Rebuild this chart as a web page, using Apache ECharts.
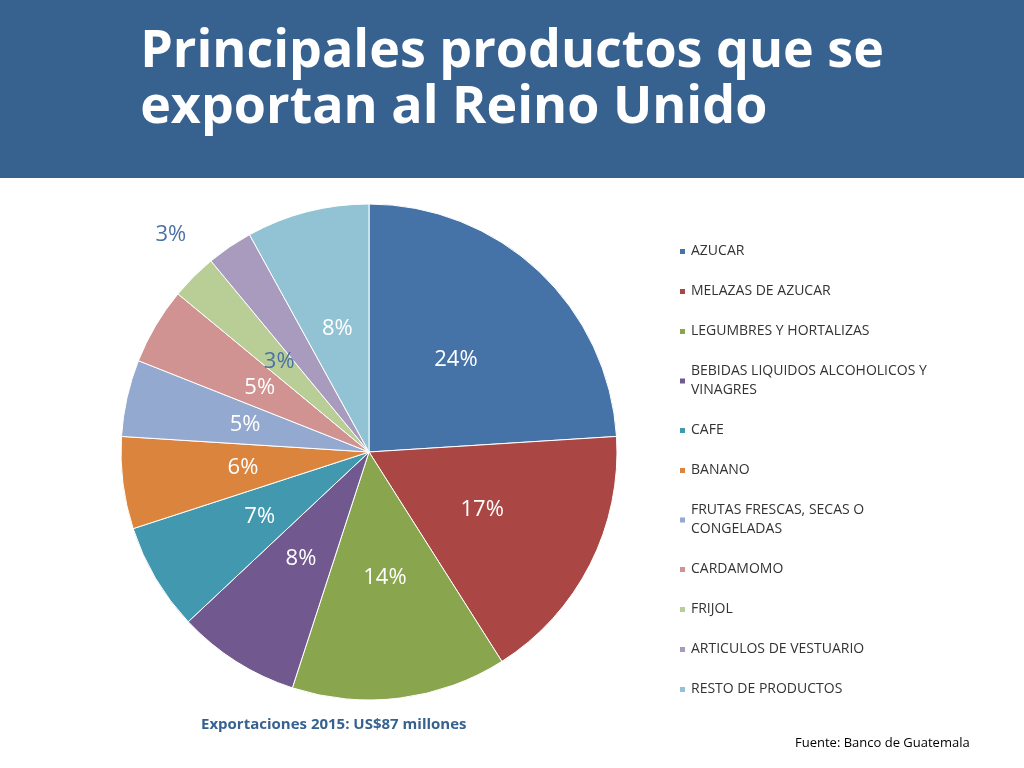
<!DOCTYPE html>
<html>
<head>
<meta charset="utf-8">
<script src="https://cdn.jsdelivr.net/npm/echarts@6/dist/echarts.min.js"></script>
<style>
html,body{margin:0;padding:0;background:#fff;}
#chart{width:1024px;height:768px;}
</style>
</head>
<body>
<div id="chart"></div>
<script>
var categories=['AZUCAR','MELAZAS DE AZUCAR','LEGUMBRES Y HORTALIZAS','BEBIDAS LIQUIDOS ALCOHOLICOS Y\nVINAGRES','CAFE','BANANO','FRUTAS FRESCAS, SECAS O\nCONGELADAS','CARDAMOMO','FRIJOL','ARTICULOS DE VESTUARIO','RESTO DE PRODUCTOS'];
var values=[24,17,14,8,7,6,5,5,3,3,8];
var colors=['#4572a7','#aa4643','#89a54e','#71588f','#4198af','#db843d','#93a9cf','#d19392','#b9cd96','#a99bbd','#92c3d5'];

var pieData=[];
for(var i=0;i<categories.length;i++){
    var item={name:categories[i],value:values[i]};
    if(i==8){
        item.label={color:'#4a72a8'};
    }
    if(i==9){
        item.label={color:'#4a72a8',position:'outside'};
        item.labelLine={show:false};
    }
    pieData.push(item);
}

var chart=echarts.init(document.getElementById('chart'));
var option={
    color:colors,
    graphic:[
        {type:'rect',left:0,top:0,shape:{width:1024,height:178},style:{fill:'#37618f'}},
        {type:'text',left:'center',top:24,style:{text:'Principales productos que se\nexportan al Reino Unido',fill:'#fff',font:'bold 52px "Open Sans", sans-serif',lineHeight:56,align:'center'}},
        {type:'text',left:201,top:717,style:{text:'Exportaciones 2015: US$87 millones',fill:'#37618f',font:'bold 15px "Open Sans", sans-serif'}},
        {type:'text',left:795,top:737,style:{text:'Fuente: Banco de Guatemala',fill:'#000',font:'13px "Open Sans", sans-serif'}}
    ],
    legend:{
        orient:'vertical',
        left:673,
        top:237,
        itemWidth:7,
        itemHeight:7,
        icon:'rect',
        itemGap:21,
        textStyle:{fontSize:14,color:'#333',fontFamily:'"Open Sans", sans-serif',lineHeight:19},
        data:categories
    },
    series:[{
        type:'pie',
        center:[369,452],
        radius:248,
        startAngle:90,
        clockwise:true,
        data:pieData,
        label:{
            show:true,
            position:'inside',
            formatter:'{c}%',
            color:'#fff',
            fontSize:22,
            fontFamily:'"Open Sans", sans-serif'
        },
        labelLine:{show:false},
        itemStyle:{borderColor:'#fff',borderWidth:1}
    }]
};
chart.setOption(option);
</script>
</body>
</html>
